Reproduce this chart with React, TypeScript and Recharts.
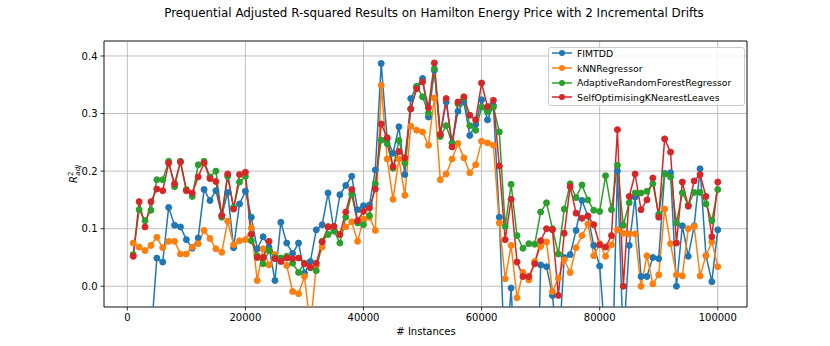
import { LineChart, Line, XAxis, YAxis, CartesianGrid, ReferenceArea } from 'recharts';

const instances = Array.from({ length: 100 }, (_, i) => (i + 1) * 1000);

const fimtdd = [
  -0.35, -0.25, -0.18, -0.09, 0.049, 0.042, 0.137, 0.106, 0.103, 0.081,
  0.066, 0.084, 0.168, 0.149, 0.166, 0.123, 0.163, 0.067, 0.143, 0.165,
  0.12, 0.065, 0.086, 0.068, 0.01, 0.111, 0.075, 0.057, 0.075, 0.023,
  0.043, 0.098, 0.107, 0.162, 0.096, 0.159, 0.175, 0.191, 0.133, 0.14,
  0.141, 0.202, 0.387, 0.256, 0.231, 0.277, 0.194, 0.326, 0.347, 0.361,
  0.294, 0.375, 0.263, 0.32, 0.249, 0.304, 0.32, 0.262, 0.281, 0.324,
  0.289, 0.314, 0.12, -0.15, -0.003, -0.2, -0.35, -0.3, -0.4, 0.037,
  0.034, -0.016, -0.12, 0.05, 0.055, 0.097, 0.149, 0.122, 0.071, 0.035,
  -0.1, -0.2, 0.2, -0.1, 0.071, 0.155, 0.017, 0.017, 0.05, 0.048,
  0.196, 0.197, 0.0, 0.105, 0.052, 0.105, 0.204, 0.053, 0.008, 0.098,
];

const knn = [
  0.075, 0.068, 0.062, 0.071, 0.085, 0.067, 0.078, 0.078, 0.056, 0.056,
  0.068, 0.074, 0.097, 0.083, 0.065, 0.059, 0.113, 0.072, 0.079, 0.081,
  0.101, 0.01, 0.065, 0.037, 0.055, 0.045, 0.036, -0.009, -0.013, 0.017,
  -0.07, 0.035, 0.068, 0.104, 0.1, 0.09, 0.103, 0.112, 0.078, 0.117,
  0.12, 0.097, 0.349, 0.221, 0.151, 0.221, 0.158, 0.278, 0.271, 0.268,
  0.245, 0.327, 0.185, 0.195, 0.221, 0.248, 0.223, 0.197, 0.211, 0.252,
  0.249, 0.245, 0.11, 0.013, 0.071, -0.02, 0.024, 0.011, 0.043, 0.069,
  0.077, -0.009, 0.014, 0.046, 0.024, 0.067, 0.088, 0.108, 0.053, 0.074,
  0.052, 0.072, 0.098, 0.092, 0.091, 0.091, 0.0, 0.053, 0.004, 0.02,
  0.134, 0.074, 0.02, 0.018, 0.1, 0.104, 0.018, 0.053, 0.077, 0.034,
];

const arf = [
  0.055, 0.133, 0.114, 0.132, 0.185, 0.185, 0.217, 0.173, 0.217, 0.168,
  0.156, 0.211, 0.217, 0.19, 0.2, 0.12, 0.191, 0.137, 0.181, 0.191,
  0.079, 0.053, 0.039, 0.062, 0.05, 0.049, 0.052, 0.04, 0.024, 0.04,
  0.032, 0.027, 0.078, 0.09, 0.096, 0.075, 0.12, 0.16, 0.11, 0.107,
  0.123, 0.178, 0.254, 0.248, 0.205, 0.253, 0.214, 0.308, 0.347, 0.329,
  0.301, 0.378, 0.26, 0.279, 0.248, 0.317, 0.327, 0.279, 0.271, 0.311,
  0.303, 0.311, 0.268, 0.104, 0.177, 0.088, 0.066, 0.074, 0.073, 0.129,
  0.145, 0.1, 0.056, 0.134, 0.178, 0.154, 0.176, 0.15, 0.132, 0.13,
  0.192, 0.133, 0.21, 0.106, 0.145, 0.162, 0.162, 0.165, 0.178, 0.125,
  0.195, 0.19, 0.11, 0.162, 0.141, 0.163, 0.163, 0.143, 0.114, 0.168,
];

const soknl = [
  0.052, 0.147, 0.103, 0.147, 0.169, 0.166, 0.214, 0.178, 0.216, 0.166,
  0.162, 0.19, 0.214, 0.187, 0.182, 0.123, 0.195, 0.134, 0.194, 0.198,
  0.09, 0.05, 0.05, 0.078, 0.048, 0.043, 0.049, 0.048, 0.049, 0.039,
  0.033, 0.04, 0.077, 0.103, 0.104, 0.09, 0.129, 0.168, 0.114, 0.13,
  0.136, 0.169, 0.282, 0.258, 0.208, 0.234, 0.223, 0.308, 0.343, 0.355,
  0.31, 0.388, 0.264, 0.326, 0.242, 0.32, 0.329, 0.297, 0.289, 0.353,
  0.312, 0.323, 0.209, 0.081, 0.151, 0.042, 0.017, 0.017, 0.039, 0.079,
  0.1, 0.098, -0.016, 0.092, 0.173, 0.127, 0.118, 0.122, 0.107, 0.072,
  0.068, 0.088, 0.272, 0.0, 0.156, 0.195, 0.133, 0.15, 0.188, 0.12,
  0.256, 0.233, 0.075, 0.181, 0.139, 0.183, 0.194, 0.156, 0.086, 0.181,
];

const xTicks = [0, 20000, 40000, 60000, 80000, 100000];
const yTicks = [0, 0.1, 0.2, 0.3, 0.4];

const series = [
  { key: 'fimtdd', name: 'FIMTDD', color: '#1f77b4' },
  { key: 'knn', name: 'kNNRegressor', color: '#ff7f0e' },
  { key: 'arf', name: 'AdaptiveRandomForestRegressor', color: '#2ca02c' },
  { key: 'soknl', name: 'SelfOptimisingKNearestLeaves', color: '#d62728' },
];

const data = instances.map((x, i) => ({
  x,
  fimtdd: fimtdd[i],
  knn: knn[i],
  arf: arf[i],
  soknl: soknl[i],
}));

const X_DOMAIN = [-3950, 104950];
const Y_DOMAIN = [-0.036, 0.426];
const font = 'DejaVu Sans, sans-serif';

function YLabel() {
  return (
    <text transform="translate(77,174) rotate(-90)" textAnchor="middle" fontFamily={font} fontSize={10} fill="#000">
      <tspan fontStyle="italic">R</tspan>
      <tspan fontSize={7} dy={-4}>2</tspan>
      <tspan fontSize={7} fontStyle="italic" dx={-4} dy={7}>adj</tspan>
    </text>
  );
}

function XLabel() {
  return (
    <text x={426} y={335} textAnchor="middle" fontFamily={font} fontSize={10} fill="#000">
      # Instances
    </text>
  );
}

export default function App() {
  return (
    <div style={{ position: 'absolute', left: 0, top: 0, width: 830, height: 346, background: '#fff' }}>
      <div
        style={{
          position: 'absolute',
          left: 134,
          width: 600,
          top: 6,
          textAlign: 'center',
          whiteSpace: 'nowrap',
          fontFamily: font,
          fontSize: 11.9,
          color: '#000',
        }}
      >
        Prequential Adjusted R-squared Results on Hamilton Energy Price with 2 Incremental Drifts
      </div>
      <LineChart width={830} height={346} data={data} margin={{ top: 41, right: 83, bottom: 0, left: 0 }}>
        <CartesianGrid stroke="#b0b0b0" strokeWidth={0.8} />
        <XAxis
          dataKey="x"
          type="number"
          domain={X_DOMAIN}
          ticks={xTicks}
          allowDataOverflow
          height={39}
          axisLine={false}
          tickLine={{ stroke: '#000', strokeWidth: 0.8 }}
          tickSize={3.5}
          tickMargin={3}
          tick={{ fontFamily: font, fontSize: 10, fill: '#000' }}
          label={{ content: () => <XLabel /> }}
        />
        <YAxis
          type="number"
          domain={Y_DOMAIN}
          ticks={yTicks}
          allowDataOverflow
          width={104}
          axisLine={false}
          tickLine={{ stroke: '#000', strokeWidth: 0.8 }}
          tickSize={3.5}
          tickMargin={3}
          tickFormatter={(v: number) => v.toFixed(1)}
          tick={{ fontFamily: font, fontSize: 10, fill: '#000' }}
          label={{ content: () => <YLabel /> }}
        />
        {series.map((s) => (
          <Line
            key={s.key}
            dataKey={s.key}
            name={s.name}
            type="linear"
            stroke={s.color}
            strokeWidth={1.5}
            dot={{ r: 3, fill: s.color, stroke: s.color, strokeWidth: 1 }}
            activeDot={false}
            isAnimationActive={false}
          />
        ))}
        <ReferenceArea
          x1={X_DOMAIN[0]}
          x2={X_DOMAIN[1]}
          y1={Y_DOMAIN[0]}
          y2={Y_DOMAIN[1]}
          fill="none"
          stroke="#000"
          strokeWidth={0.8}
          ifOverflow="visible"
        />
      </LineChart>
      <div
        style={{
          position: 'absolute',
          left: 548,
          top: 47,
          width: 197,
          height: 59,
          boxSizing: 'border-box',
          border: '1px solid #cccccc',
          borderRadius: 3,
          background: 'rgba(255,255,255,0.8)',
          fontFamily: font,
          fontSize: 9.3,
          color: '#000',
        }}
      >
        {series.map((s, k) => (
          <div
            key={s.key}
            style={{
              position: 'absolute',
              left: 3,
              top: 5.3 + k * 14.7 - 7,
              height: 14,
              display: 'flex',
              alignItems: 'center',
              whiteSpace: 'nowrap',
            }}
          >
            <svg width={20} height={8} style={{ flex: 'none', marginRight: 5 }}>
              <line x1={0} y1={4} x2={20} y2={4} stroke={s.color} strokeWidth={1.5} />
              <circle cx={10} cy={4} r={3} fill={s.color} />
            </svg>
            <span>{s.name}</span>
          </div>
        ))}
      </div>
    </div>
  );
}
